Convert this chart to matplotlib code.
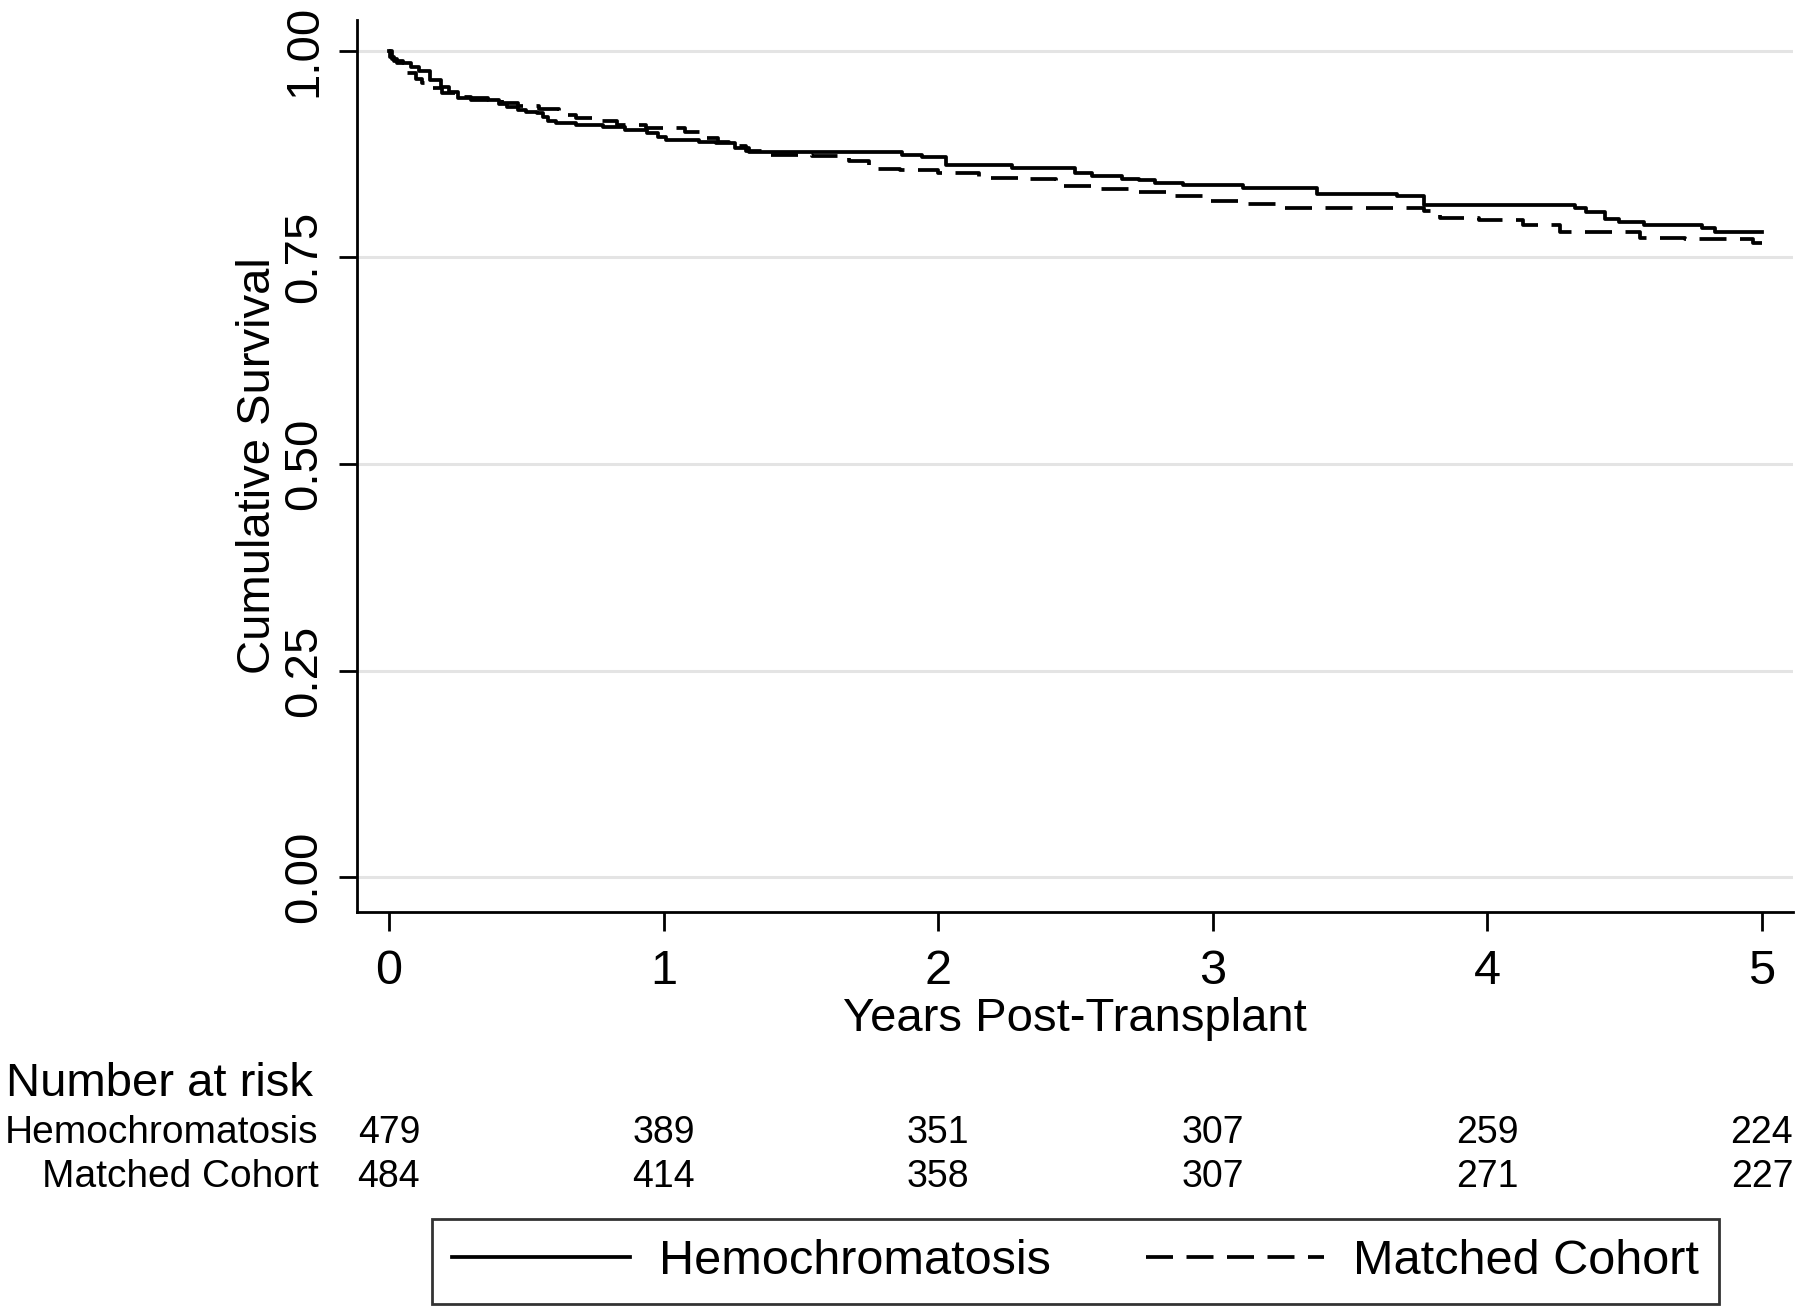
import matplotlib
matplotlib.use('Agg')
import matplotlib.pyplot as plt
import matplotlib.transforms as mtransforms
from matplotlib.lines import Line2D

plt.rcParams['font.family'] = ['Liberation Sans', 'DejaVu Sans']

# Kaplan-Meier steps (years, survival)
hemo_t = [0, 0.005, 0.02, 0.05, 0.08, 0.11, 0.15, 0.19, 0.22, 0.25,
          0.36, 0.40, 0.43, 0.47, 0.50, 0.54, 0.56, 0.58, 0.61, 0.68,
          0.78, 0.86, 0.94, 0.98, 1.01, 1.13, 1.19, 1.26, 1.31, 1.87,
          1.94, 2.03, 2.27, 2.50, 2.56, 2.67, 2.73, 2.79, 2.89, 3.11,
          3.38, 3.67, 3.77, 4.32, 4.36, 4.43, 4.48, 4.57, 4.78, 4.83, 5.0]
hemo_s = [1.0, 0.992, 0.988, 0.985, 0.980, 0.975, 0.965, 0.956, 0.950, 0.943,
          0.940, 0.935, 0.932, 0.928, 0.926, 0.924, 0.920, 0.915, 0.912, 0.910,
          0.907, 0.904, 0.900, 0.896, 0.892, 0.890, 0.888, 0.882, 0.877, 0.874,
          0.871, 0.862, 0.858, 0.852, 0.848, 0.845, 0.843, 0.840, 0.837, 0.834,
          0.826, 0.824, 0.813, 0.809, 0.805, 0.796, 0.793, 0.789, 0.785, 0.781, 0.781]

match_t = [0, 0.01, 0.03, 0.067, 0.10, 0.121, 0.16, 0.194, 0.243, 0.30,
           0.413, 0.47, 0.547, 0.62, 0.68, 0.753, 0.83, 0.935, 1.08, 1.142,
           1.20, 1.239, 1.30, 1.385, 1.54, 1.676, 1.75, 1.86, 2.0, 2.15,
           2.29, 2.43, 2.557, 2.70, 2.836, 2.976, 3.11, 3.25, 3.77, 3.827,
           3.97, 4.13, 4.264, 4.555, 4.72, 4.967, 5.0]
match_s = [1.0, 0.990, 0.985, 0.9725, 0.966, 0.9605, 0.955, 0.9484, 0.9443, 0.940,
           0.9364, 0.933, 0.9292, 0.922, 0.919, 0.9154, 0.910, 0.906, 0.902, 0.894,
           0.890, 0.884, 0.879, 0.874, 0.872, 0.866, 0.857, 0.855, 0.852, 0.846,
           0.845, 0.836, 0.832, 0.829, 0.824, 0.818, 0.815, 0.810, 0.806, 0.798,
           0.795, 0.789, 0.780, 0.773, 0.772, 0.767, 0.767]

# number at risk table
risk_years = [0, 1, 2, 3, 4, 5]
risk_groups = ['Hemochromatosis', 'Matched Cohort']
risk_hemo = [479, 389, 351, 307, 259, 224]
risk_match = [484, 414, 358, 307, 271, 227]

y_ticks = [0, 0.25, 0.5, 0.75, 1.0]
x_ticks = [0, 1, 2, 3, 4, 5]

fig = plt.figure(figsize=(18, 13.11), dpi=100)
ax = fig.add_axes([0.1983, 0.30435, 0.79778, 0.6804])

dash = (0, (7.2, 3.6))
ax.step(match_t, match_s, where='post', color='black', lw=2.7, linestyle=dash)
ax.step(hemo_t, hemo_s, where='post', color='black', lw=2.7)

ax.set_xlim(-0.1165, 5.113)
ax.set_ylim(-0.042, 1.037)
ax.set_xticks(x_ticks)
ax.set_yticks(y_ticks)
ax.set_yticklabels(['%.2f' % v for v in y_ticks])
ax.yaxis.grid(True, color='#e4e4e4', lw=2.2)
ax.set_axisbelow(True)

for side in ['top', 'right']:
    ax.spines[side].set_visible(False)
for side in ['left', 'bottom']:
    ax.spines[side].set_linewidth(2)

ax.tick_params(axis='x', length=14, width=2, pad=13, labelsize=35)
ax.tick_params(axis='y', length=12.7, width=2, pad=9.5, labelsize=34)
for lab in ax.get_yticklabels():
    lab.set_rotation(90)
    lab.set_va('center')

ax.set_xlabel('Years Post-Transplant', fontsize=34, labelpad=2)
ax.set_ylabel('Cumulative Survival', fontsize=34, labelpad=1.5)

# number at risk table below the axis
tr = mtransforms.blended_transform_factory(ax.transData, fig.transFigure)
fig.text(0.0032, 0.1732, 'Number at risk', fontsize=34, ha='left', va='center')
row_y = [0.1358, 0.1022]
for name, vals, yy in zip(risk_groups, [risk_hemo, risk_match], row_y):
    fig.text(0.177, yy, name, fontsize=28, ha='right', va='center')
    for x, v in zip(risk_years, vals):
        ax.text(x, yy, str(v), fontsize=27, ha='center', va='center', transform=tr)

handles = [Line2D([], [], color='black', lw=2.7),
           Line2D([], [], color='black', lw=2.7, linestyle=dash)]
leg = fig.legend(handles, risk_groups, loc='center', bbox_to_anchor=(0.5975, 0.0378),
                 ncol=2, fontsize=35, frameon=True, fancybox=False,
                 handlelength=3.66, handletextpad=0.6, columnspacing=1.95,
                 borderpad=0.42, edgecolor='black')
leg.get_frame().set_linewidth(2)

fig.savefig('out.png', dpi=100)
